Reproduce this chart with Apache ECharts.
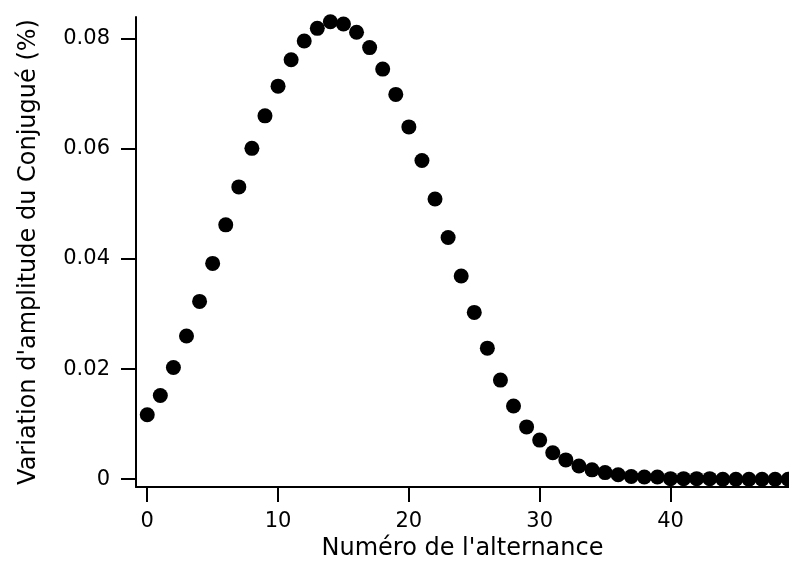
<!DOCTYPE html>
<html>
<head>
<meta charset="utf-8">
<script src="https://cdn.jsdelivr.net/npm/echarts@6/dist/echarts.min.js"></script>
<style>
html,body{margin:0;padding:0;background:#fff;}
#chart{width:789px;height:567px;}
</style>
</head>
<body>
<div id="chart"></div>
<script>
const alternance = [0,1,2,3,4,5,6,7,8,9,10,11,12,13,14,15,16,17,18,19,20,21,22,23,24,25,26,27,28,29,30,31,32,33,34,35,36,37,38,39,40,41,42,43,44,45,46,47,48,49];
const variation = [0.0117,0.0152,0.0203,0.0260,0.0323,0.0392,0.0462,0.0531,0.0601,0.0660,
  0.0714,0.0762,0.0796,0.0819,0.0831,0.0827,0.0812,0.0784,0.0745,0.0699,
  0.0640,0.0579,0.0509,0.0439,0.0369,0.0303,0.0238,0.0180,0.0133,0.0095,
  0.0071,0.0048,0.0035,0.0024,0.0017,0.0012,0.0008,0.0005,0.0004,0.0004,
  0.0001,0.0001,0.0001,0.0001,0.0000,0.0000,0.0000,0.0000,0.0000,0.0000];
const xTicks = [0,10,20,30,40];
const yTicks = [0,0.02,0.04,0.06,0.08];
const xTitle = "Numéro de l'alternance";
const yTitle = "Variation d'amplitude du Conjugué (%)";

const points = alternance.map((x, i) => [x, variation[i]]);
const font = 'DejaVu Sans';
const chart = echarts.init(document.getElementById('chart'), null, {renderer: 'canvas'});
chart.setOption({
  animation: false,
  backgroundColor: '#fff',
  grid: {left: 136, right: 0, top: 17, bottom: 80, containLabel: false},
  xAxis: {
    type: 'value', min: -0.86, max: 49.06,
    splitLine: {show: false},
    axisLine: {show: true, onZero: false, lineStyle: {color: '#000', width: 2}},
    axisTick: {show: true, length: 15, lineStyle: {color: '#000', width: 2}, customValues: xTicks},
    axisLabel: {color: '#000', fontFamily: font, fontSize: 21, margin: 24, customValues: xTicks},
    name: xTitle, nameLocation: 'middle', nameGap: 46,
    nameTextStyle: {color: '#000', fontFamily: font, fontSize: 24}
  },
  yAxis: {
    type: 'value', min: -0.00142, max: 0.08396,
    splitLine: {show: false},
    axisLine: {show: true, onZero: false, lineStyle: {color: '#000', width: 2}},
    axisTick: {show: true, length: 15, lineStyle: {color: '#000', width: 2}, customValues: yTicks},
    axisLabel: {color: '#000', fontFamily: font, fontSize: 21, margin: 26, customValues: yTicks,
      formatter: v => String(v)},
    name: yTitle, nameLocation: 'middle', nameGap: 95,
    nameTextStyle: {color: '#000', fontFamily: font, fontSize: 24}
  },
  series: [{
    type: 'scatter',
    data: points,
    symbol: 'circle',
    symbolSize: 15,
    itemStyle: {color: '#000', opacity: 1},
    clip: false
  }]
});
</script>
</body>
</html>
